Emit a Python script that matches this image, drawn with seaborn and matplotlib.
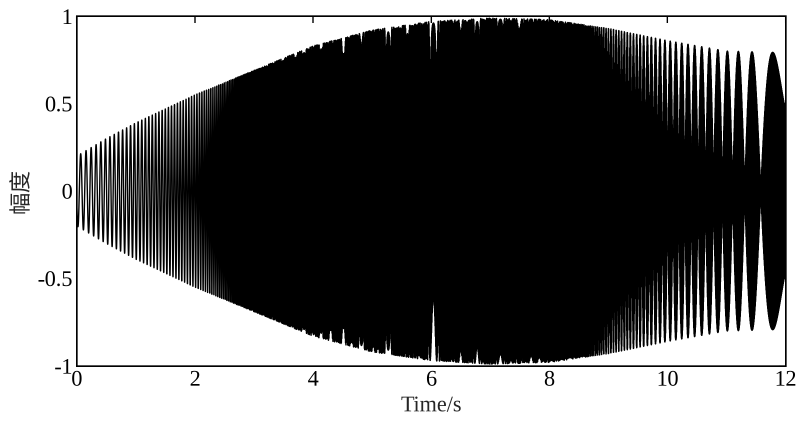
import matplotlib
matplotlib.use("Agg")
import matplotlib.pyplot as plt
import numpy as np
import pandas as pd
import seaborn as sns

# envelope of the sweep (time in s, amplitude)
ENV_TIME = [0.0, 0.5, 1.0, 1.5, 2.0, 3.0, 4.0, 5.0, 6.0, 7.0, 8.0, 9.0, 10.0, 11.0, 12.0]
ENV_AMP = [0.20, 0.30, 0.39, 0.47, 0.55, 0.69, 0.83, 0.92, 0.97, 0.99, 0.98, 0.93, 0.86, 0.80, 0.79]

# instantaneous frequency of the sweep (Hz):
# slow start, fast middle, creeping up towards half the sample rate at the end
FREQ_TIME = [0.0, 1.0, 2.0, 3.0, 4.0, 5.0, 6.0, 7.0, 8.0, 9.0, 10.0, 10.5, 11.0, 11.5, 12.0]
FREQ_HZ = [10.5, 15.7, 22.0, 45.0, 110.0, 220.0, 330.0, 420.0, 470.0, 488.0, 494.5, 495.8, 497.05, 498.3, 499.58]
SAMPLE_RATE = 1000.0
T_BEAT_ZERO = 11.58  # alias beat null before the last lobe
T_END = 12.0

X_TICKS = [0, 2, 4, 6, 8, 10, 12]
Y_TICKS = [-1, -0.5, 0, 0.5, 1]
Y_TICK_LABELS = ["-1", "-0.5", "0", "0.5", "1"]

SUPERSAMPLE = 3

fs = SAMPLE_RATE
t = np.arange(0, int(T_END * fs) + 1) / fs
freq = np.interp(t, FREQ_TIME, FREQ_HZ)
phase = 2 * np.pi * np.concatenate([[0.0], np.cumsum(freq[:-1]) / fs])

# start phase chosen so the alias beat vanishes where the picture shows it
n0 = int(round(T_BEAT_ZERO * fs))
theta = np.pi * n0 - phase[n0]
amp = np.interp(t, ENV_TIME, ENV_AMP)
signal = amp * np.sin(phase + theta)

df = pd.DataFrame({"time": t, "amp": signal})

sns.set_theme(style="white")
plt.rcParams["font.family"] = ["Liberation Serif", "Noto Sans CJK SC"]
plt.rcParams["path.simplify"] = False  # keep every sample of the dense trace
plt.rcParams["agg.path.chunksize"] = 0

# draw big, then average down to 800x425 so the dense trace blends like the original
fig = plt.figure(figsize=(8, 4.25), dpi=100 * SUPERSAMPLE)
ax = fig.add_axes([0.096, 0.139, 0.886, 0.823])

sns.lineplot(data=df, x="time", y="amp", ax=ax, color="black",
             linewidth=1.0, estimator=None, sort=False)

ax.set_xlim(0, 12)
ax.set_ylim(-1, 1)
ax.set_xticks(X_TICKS)
ax.set_xticklabels([str(v) for v in X_TICKS])
ax.set_yticks(Y_TICKS)
ax.set_yticklabels(Y_TICK_LABELS)
ax.tick_params(direction="in", length=5, width=1, top=True, right=True,
               labelsize=16, colors="black", pad=3)
for side in ax.spines.values():
    side.set_color("black")
    side.set_linewidth(1.2)

ax.set_xlabel("Time/s", fontsize=16, labelpad=4)
ax.set_ylabel("幅度", fontsize=16, labelpad=4,
              family=["Noto Sans CJK SC", "DejaVu Sans"])

fig.canvas.draw()
big = np.asarray(fig.canvas.buffer_rgba()).astype(float)
h, w = big.shape[0] // SUPERSAMPLE, big.shape[1] // SUPERSAMPLE
big = big[: h * SUPERSAMPLE, : w * SUPERSAMPLE]
small = big.reshape(h, SUPERSAMPLE, w, SUPERSAMPLE, 4).mean(axis=(1, 3))
plt.imsave("out.png", small.round().astype(np.uint8))
